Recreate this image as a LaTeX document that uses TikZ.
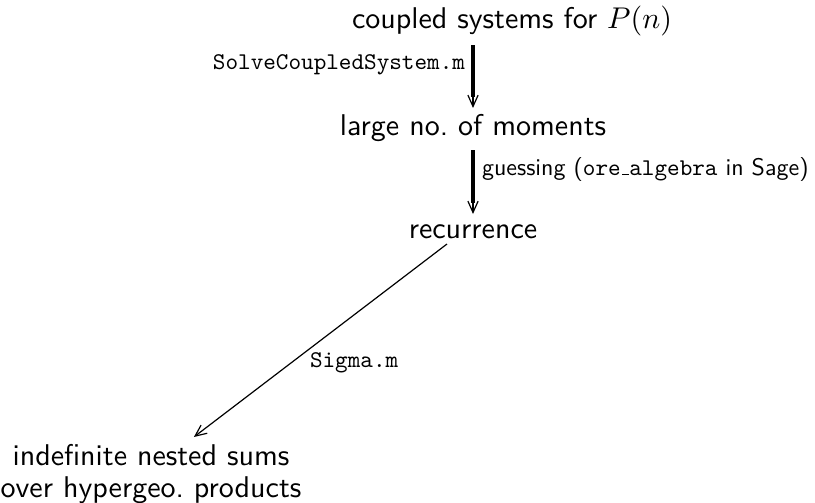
\documentclass[tikz,border=0pt]{standalone}
\usetikzlibrary{arrows.meta}
\newcommand{\lblsc}[1]{\scalebox{0.8}{#1}}
\begin{document}
\begin{tikzpicture}[x=0.3333pt,y=-0.3333pt,
  every node/.style={inner sep=0pt,outer sep=0pt},
  obj/.style={font=\sffamily, anchor=base},
  tip/.style={-{Straight Barb[length=3.8pt,width=3.4pt,line width=0.4pt]}},
  thinarr/.style={draw, line width=0.4pt, tip},
  thickarr/.style={draw, line width=0.4pt, tip,
    postaction={draw, -, line width=1.4pt, shorten >=3.6pt}}]
\useasboundingbox (0,0) rectangle (815,502);
\node[obj] (top) at (512,28) {coupled systems for $P(n)$};
\node[obj] (mid) at (473,135) {large no.\ of moments};
\node[obj] (rec) at (473,238) {recurrence};
\node[obj, align=center, font=\sffamily\fontsize{10}{10.6}\selectfont] (bot) at (151,497) {indefinite nested sums\\over hypergeo.\ products};
\node[anchor=base east] (l1) at (465,69) {\lblsc{\ttfamily SolveCoupledSystem.m}};
\node[anchor=base west] (l2) at (482,175) {\lblsc{\sffamily guessing (\texttt{ore\kern.06em\rule{0.3em}{0.4pt}algebra} in Sage)}};
\node[anchor=base west] (l3) at (310,367) {\lblsc{\ttfamily Sigma.m}};
\draw[thickarr] ([yshift=-5.67pt]mid.base |- top.base) -- ([yshift=9pt]mid.base);
\draw[thickarr] ([yshift=-5pt]mid.base) -- ([yshift=8pt]rec.base);
\draw[thinarr] ([xshift=-8.67pt,yshift=-2pt]rec.base) -- ([xshift=14.3pt,yshift=20pt]bot.base);
\end{tikzpicture}
\end{document}
